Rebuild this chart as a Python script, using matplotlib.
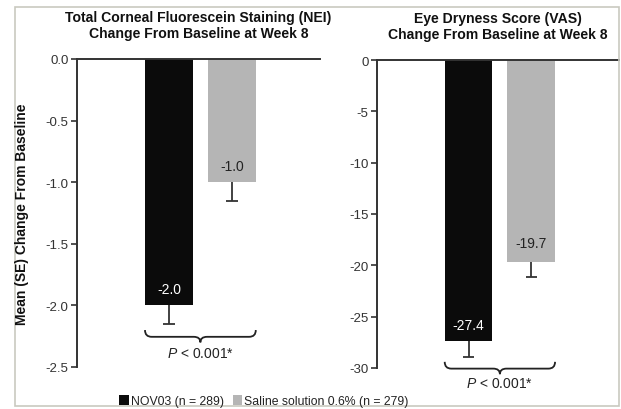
import matplotlib
matplotlib.use("Agg")
import matplotlib.pyplot as plt
from matplotlib.path import Path
from matplotlib.patches import PathPatch, Rectangle, Patch

plt.rcParams["font.family"] = ["Liberation Sans", "DejaVu Sans"]
plt.rcParams["mathtext.fontset"] = "custom"
plt.rcParams["mathtext.it"] = "Liberation Sans:italic"
plt.rcParams["mathtext.rm"] = "Liberation Sans"

groups = ["NOV03 (n = 289)", "Saline solution 0.6% (n = 279)"]
colors = ["#0b0b0b", "#b5b5b5"]

nei_values = [-2.0, -1.0]
nei_err = [0.15, 0.15]
nei_ticks = [0.0, -0.5, -1.0, -1.5, -2.0, -2.5]
nei_ticklabels = ["0.0", "-0.5", "-1.0", "-1.5", "-2.0", "-2.5"]

vas_values = [-27.4, -19.7]
vas_err = [1.5, 1.4]
vas_ticks = [0, -5, -10, -15, -20, -25, -30]
vas_ticklabels = ["0", "-5", "-10", "-15", "-20", "-25", "-30"]

titles = ["Total Corneal Fluorescein Staining (NEI)\nChange From Baseline at Week 8",
          "Eye Dryness Score (VAS)\nChange From Baseline at Week 8"]
ptext = "$\\it{P}$ < 0.001*"

fig = plt.figure(figsize=(6.21, 4.10), dpi=100)
fig.patches.append(Rectangle((15/621, 1-407/410), 604/621, 399/410, transform=fig.transFigure,
                             fill=False, edgecolor="#c9c9c0", linewidth=1.2))

ax1 = fig.add_axes([77/621, 1-368/410, 243/621, 308/410])
ax2 = fig.add_axes([377/621, 1-369/410, 242/621, 308/410])

x = [0, 1]
bw = 0.76
dark = "#333333"


def brace(ax, x0, x1, ytop, ytip):
    xc = (x0 + x1) / 2
    ymid = ytop + (ytip - ytop) * 0.55
    r = (x1 - x0) * 0.06
    verts = [(x0, ytop), (x0, ymid), (x0 + r, ymid),
             (x0 + r, ymid), (xc - r, ymid), (xc - r, ymid),
             (xc, ymid), (xc, ytip),
             (xc, ymid), (xc + r, ymid),
             (xc + r, ymid), (x1 - r, ymid), (x1 - r, ymid),
             (x1, ymid), (x1, ytop)]
    codes = [Path.MOVETO, Path.CURVE3, Path.CURVE3,
             Path.LINETO, Path.LINETO, Path.LINETO,
             Path.CURVE3, Path.CURVE3,
             Path.CURVE3, Path.CURVE3,
             Path.LINETO, Path.LINETO, Path.LINETO,
             Path.CURVE3, Path.CURVE3]
    ax.add_patch(PathPatch(Path(verts, codes), fill=False, edgecolor="#222222",
                           linewidth=1.3, clip_on=False))


def panel(ax, values, errs, ticks, ticklabels, ylim, title, fmt, brace_y, txt_y, lab_off):
    ax.bar(x, values, width=bw, color=colors, zorder=2)
    cap = 0.09
    for xi, v, e in zip(x, values, errs):
        ax.vlines(xi, v - e, v, colors=dark, linewidth=1.3, zorder=3)
        ax.hlines(v - e, xi - cap, xi + cap, colors=dark, linewidth=1.3, zorder=3)
    for xi, v, c, off in zip(x, values, ["white", "#222222"], lab_off):
        ax.annotate(fmt.format(v), (xi, v), xytext=(0, off), textcoords="offset points",
                    ha="center", va="center", color=c, fontsize=10)
    ax.set_xlim(-1.46, 2.40)
    ax.set_ylim(*ylim)
    ax.set_yticks(ticks)
    ax.set_yticklabels(ticklabels)
    ax.set_xticks([])
    for s in ["right", "bottom"]:
        ax.spines[s].set_visible(False)
    for s in ["left", "top"]:
        ax.spines[s].set_color(dark)
        ax.spines[s].set_linewidth(1.4)
    ax.tick_params(axis="y", direction="out", length=4, width=1.2, color=dark,
                   labelcolor="#333333", labelsize=9.5, pad=2)
    ax.set_title(title, fontsize=10.1, fontweight="bold", color="#111111", pad=16,
                 linespacing=1.2)
    brace(ax, x[0] - bw / 2, x[1] + bw / 2, brace_y[0], brace_y[1])
    ax.text((x[0] + x[1]) / 2, txt_y, ptext, ha="center", va="center", fontsize=10,
            color="#222222", clip_on=False)


panel(ax1, nei_values, nei_err, nei_ticks, nei_ticklabels, (-2.5, 0.0), titles[0], "{:.1f}",
      (-2.20, -2.30), -2.39, [12, 12])
panel(ax2, vas_values, vas_err, vas_ticks, vas_ticklabels, (-30, 0), titles[1], "{:.1f}",
      (-29.4, -30.6), -31.5, [12, 14])

fig.text(22/621, 1-214/410, "Mean (SE) Change From Baseline", rotation=90, ha="center",
         va="center", fontsize=10, fontweight="bold", color="#111111")

handles = [Patch(facecolor=c, edgecolor="none") for c in colors]
fig.legend(handles, groups, loc="center", bbox_to_anchor=(264/621, 1-402/410), ncol=2,
           frameon=False, fontsize=8.8, handlelength=0.8, handleheight=0.9,
           handletextpad=0.15, columnspacing=0.7, borderpad=0, labelcolor="#222222")

fig.savefig("out.png", dpi=100, facecolor="white")
